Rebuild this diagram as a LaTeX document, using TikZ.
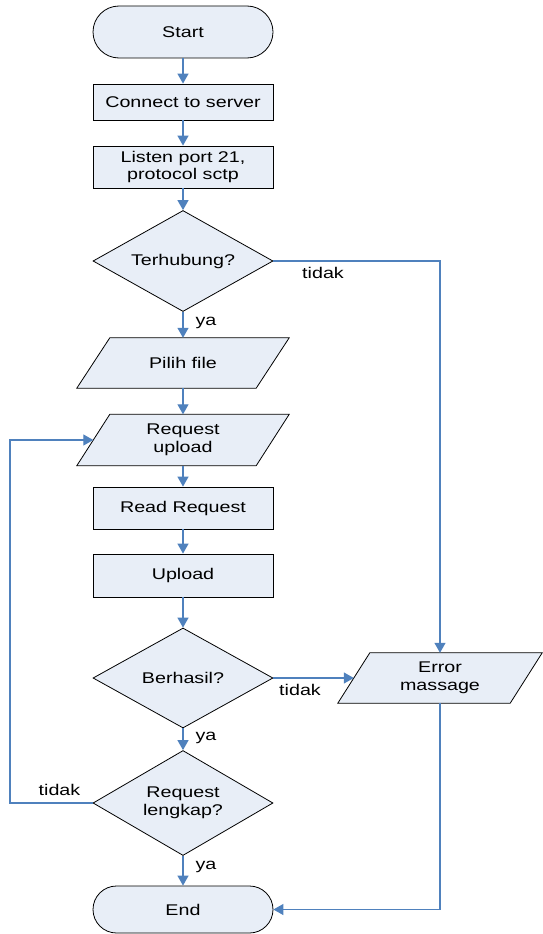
\documentclass[tikz,border=0pt]{standalone}
\usepackage{fontspec}
\setmainfont{Liberation Sans}[FakeStretch=1.27]
\usetikzlibrary{shapes.geometric,arrows.meta,backgrounds}
\definecolor{boxfill}{RGB}{232,238,247}
\definecolor{linkblue}{RGB}{79,129,189}
\newcommand\pgrambg[2]{%
  \begin{scope}[on background layer]
    \draw[line width=0.8pt, fill=boxfill]
      ([xshift=-#2pt]#1.south west) -- ([xshift=#2pt]#1.north west) --
      ([xshift=#2pt]#1.north east) -- ([xshift=-#2pt]#1.south east) -- cycle;
  \end{scope}}
\begin{document}
\begin{tikzpicture}[x=1pt,y=-1pt,
  every node/.style={font=\fontsize{15.5}{17.7}\selectfont},
  base/.style={draw=black, line width=0.8pt, fill=boxfill, inner sep=0pt, align=center},
  proc/.style={base, rectangle, minimum width=180pt},
  term/.style={base, rectangle, minimum width=180pt},
  dec/.style={base, diamond, shape aspect=1.78, minimum width=180pt},
  io/.style={rectangle, inner sep=0pt, align=center},
  link/.style={draw=linkblue, line width=1.2pt, -{Triangle[width=11pt,length=10pt]}},
  lab/.style={inner sep=0pt}
]
\useasboundingbox (0,0) rectangle (542,934);

\node[term, minimum height=52pt, rounded corners=26pt] (start) at (183,32) {Start};
\node[proc, minimum height=36pt] (conn) at (183,102) {Connect to server};
\node[proc, minimum height=42pt] (listen) at (183,167) {Listen port 21,\\protocol sctp};
\node[dec, minimum height=101pt] (terh) at (183,261) {Terhubung?};
\node[io, minimum width=179pt, minimum height=50pt] (pilih) at (183,363) {Pilih file};
\pgrambg{pilih}{16.5}
\node[io, minimum width=179pt, minimum height=51pt] (req) at (183,440) {Request\\upload};
\pgrambg{req}{16.5}
\node[proc, minimum height=42pt] (read) at (183,508) {Read Request};
\node[proc, minimum height=43pt] (upload) at (183,575.5) {Upload};
\node[dec, minimum height=100pt] (berh) at (183,678) {Berhasil?};
\node[io, minimum width=172pt, minimum height=50pt] (error) at (440,678) {Error\\massage};
\pgrambg{error}{16}
\node[dec, minimum height=105pt] (lengk) at (183,803) {Request\\lengkap?};
\node[term, minimum height=47pt, rounded corners=23.5pt] (endn) at (183,909.5) {End};

\coordinate (loopc) at (10,803);

\draw[link] (start) -- (conn);
\draw[link] (conn) -- (listen);
\draw[link] (listen) -- (terh);
\draw[link] (terh) -- (pilih);
\draw[link] (pilih) -- (req);
\draw[link] (req) -- (read);
\draw[link] (read) -- (upload);
\draw[link] (upload) -- (berh);
\draw[link] (berh) -- (lengk);
\draw[link] (lengk) -- (endn);
\draw[link] (terh.east) -| (error.north);
\draw[link] (berh.east) -- (error.west);
\draw[link] (error.south) |- (endn.east);
\draw[link] (lengk.west) -- (loopc) |- (req.west);

\node[lab] (ya1) at (206,323) {ya};
\node[lab] (ya2) at (206,738) {ya};
\node[lab] (ya3) at (206,867) {ya};
\node[lab] (t1) at (323,273) {tidak};
\node[lab] (t2) at (300,690) {tidak};
\node[lab] (t3) at (59.5,790) {tidak};
\end{tikzpicture}
\end{document}
